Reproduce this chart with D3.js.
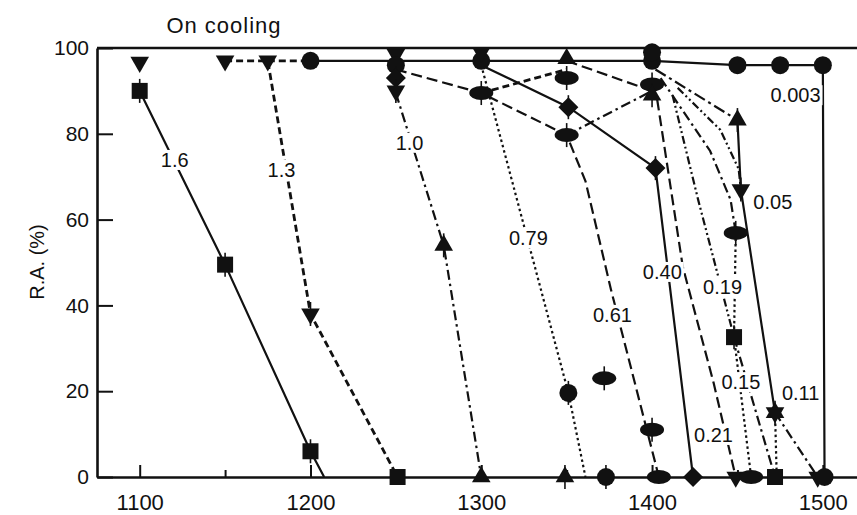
<!DOCTYPE html>
<html>
<head>
<meta charset="utf-8">
<script src="https://cdn.jsdelivr.net/npm/d3@7"></script>
<style>
body{margin:0;background:#fff}
text{font-family:"Liberation Sans",Arial,sans-serif;fill:#111}
</style>
</head>
<body>
<div id="chart"></div>
<script>
// [temperature (C), R.A. (%), marker]
const xTicks = [1100,1200,1300,1400,1500]
const xMinor = [1150,1250,1350,1450]
const yTicks = [0,20,40,60,80,100]

const r16   = [[1100,90,'sq'],[1150,49.5,'sq'],[1200,6,'sq'],[1208,0]]
const r13   = [[1150,97,'tdn'],[1175,97,'tdn'],[1200,38,'tdn'],[1251,0,'sq']]
const rTop  = [[1175,97],[1200,97]]
const r10   = [[1250,89.5],[1278,54,'tup'],[1300,0,'tup']]
const r079  = [[1300,96],[1351,19.6,'ci'],[1361,0]]
const r061  = [[1250,95],[1300,89.5,'el'],[1350,79.7,'el'],[1361,69],[1376,43.6],[1404,0,'el']]
const r040  = [[1300,96],[1351,86.2,'di'],[1402,72,'di'],[1424,0,'di']]
const rL1   = [[1300,89.5],[1350,95]]
const rL2   = [[1350,97],[1400,90]]
const rL3   = [[1350,79.7],[1400,90]]
const r021  = [[1403,88],[1418,49],[1436,22],[1449,0,'tdn']]
const r019  = [[1412,89],[1427,64.6],[1437,49.4],[1448,32.6,'sq']]
const r015  = [[1448,32.6],[1458,0,'el']]
const r015b = [[1448,32.6],[1458,19],[1472,0,'sq']]
const rEl   = [[1405,93],[1434,76],[1446,64.6],[1449,56.9,'el']]
const rEl2  = [[1449,56.9],[1448,32.6]]
const r005a = [[1402,95],[1450,83.2,'tup']]
const r005  = [[1450,83.2],[1452,67,'tdn'],[1472,15,'st']]
const r005c = [[1415,90.7],[1440,80.9],[1450.7,71.8],[1452,67]]
const r011  = [[1472,15],[1497,0,'tdn']]
const r011b = [[1472,15],[1473,0]]
const r0003 = [[1200,97,'ci'],[1250,97],[1300,97,'ci'],[1350,97],[1400,97,'ci'],[1450,96,'ci'],[1475,96,'ci'],[1500,96,'ci'],[1501,0,'ci']]

// markers with no line of their own
const extras = [[1100,96.7,'tdn'],[1250,98.5,'tdn'],[1250,96,'ci'],[1250,93,'di'],[1250,90,'tdn'],
  [1300,99,'tdn'],[1350,97.5,'tup'],[1350,93,'el'],[1400,99,'ci'],[1400,91.5,'el'],[1400,89,'tup'],
  [1372,23,'el'],[1400,11,'el'],[1349,0,'tup'],[1373,0,'ci']]

const series = [
  {pts:r16, style:'solid'}, {pts:r13, style:'dash'}, {pts:rTop, style:'dash'},
  {pts:r10, style:'dashdot'}, {pts:r079, style:'dot'}, {pts:r061, style:'long'},
  {pts:r040, style:'solid'}, {pts:rL1, style:'dash'}, {pts:rL2, style:'long'},
  {pts:rL3, style:'dashdot'}, {pts:r021, style:'long'}, {pts:r019, style:'dash2dot'},
  {pts:r015, style:'dot'}, {pts:r015b, style:'dashdot'}, {pts:rEl, style:'dashdot'},
  {pts:rEl2, style:'dot'}, {pts:r005a, style:'longdot'}, {pts:r005, style:'solid'},
  {pts:r005c, style:'dash2dot'}, {pts:r011, style:'dashdot'}, {pts:r011b, style:'dot'},
  {pts:r0003, style:'solid', nobar:true}
]

const labels = [['1.6',1120.5,73.9],['1.3',1183,71.6],['1.0',1258,77.9],['0.79',1327.6,55.7],
  ['0.61',1376.8,37.8],['0.40',1406,47.8],['0.19',1441.3,44.3],['0.15',1452,22.1],
  ['0.21',1436,9.8],['0.11',1487,19.6],['0.05',1470.7,64.1],['0.003',1484,89]]

const dashes = {solid:null, dash:'7,4', long:'11,5', dashdot:'10,4,2.5,4',
  dash2dot:'8,3,2,3,2,3', dot:'2.5,3', longdot:'12,4,3,4'}

const width = 857, height = 515
const svg = d3.select('#chart').append('svg').attr('width', width).attr('height', height)

const x = d3.scaleLinear().domain([1075,1520]).range([97,857])
const y = d3.scaleLinear().domain([0,100]).range([477,48])

// frame top
svg.append('line')
    .attr('x1', x(1075)).attr('x2', x(1520))
    .attr('y1', y(100)).attr('y2', y(100))
    .attr('stroke','#111').attr('stroke-width',2.4)

let yAxis = svg.append('g')
    .attr('transform','translate(' + x(1075) + ',0)')
    .call(d3.axisLeft(y).tickValues(yTicks).tickSizeInner(-16).tickSizeOuter(0).tickPadding(8))
yAxis.selectAll('text').attr('font-size', 21).attr('fill','#111')

let xAxis = svg.append('g')
    .attr('transform','translate(0,' + y(0) + ')')
    .call(d3.axisBottom(x).tickValues(xTicks).tickFormat(d3.format('d')).tickSizeInner(-12).tickSizeOuter(0).tickPadding(17))
xAxis.selectAll('text').attr('font-size', 22).attr('fill','#111')

svg.append('g')
    .attr('transform','translate(0,' + y(0) + ')')
    .call(d3.axisBottom(x).tickValues(xMinor).tickSizeInner(-7).tickSizeOuter(0).tickFormat(''))
    .select('.domain').remove()

svg.selectAll('.domain').attr('stroke','#111').attr('stroke-width',2.6)
svg.selectAll('.tick line').attr('stroke','#111').attr('stroke-width',2)

let line = d3.line().x(d => x(d[0])).y(d => y(d[1]))

let lines = svg.append('g')
series.forEach(function(s){
    lines.append('path')
        .attr('d', line(s.pts))
        .attr('fill','none')
        .attr('stroke','#111')
        .attr('stroke-width', s.style == 'dash' ? 2.8 : 2.2)
        .attr('stroke-dasharray', dashes[s.style])
})

function marker(g, type, cx, cy, bar){
    if(bar){
        g.append('line').attr('x1',cx).attr('x2',cx).attr('y1',cy-12).attr('y2',cy+12)
            .attr('stroke','#111').attr('stroke-width',1.6)
    }
    if(type == 'sq'){
        g.append('rect').attr('x',cx-8).attr('y',cy-8).attr('width',16).attr('height',16).attr('fill','#111')
    } else if(type == 'ci'){
        g.append('circle').attr('cx',cx).attr('cy',cy).attr('r',9).attr('fill','#111')
    } else if(type == 'el'){
        g.append('ellipse').attr('cx',cx).attr('cy',cy).attr('rx',12).attr('ry',7).attr('fill','#111')
    } else if(type == 'di'){
        g.append('path').attr('d','M0,-10L10,0L0,10L-10,0Z').attr('transform','translate('+cx+','+cy+')').attr('fill','#111')
    } else if(type == 'tup' || type == 'tdn' || type == 'st'){
        let tri = d3.symbol().type(d3.symbolTriangle).size(150)()
        if(type != 'tdn')
            g.append('path').attr('d',tri).attr('transform','translate('+cx+','+cy+')').attr('fill','#111')
        if(type != 'tup')
            g.append('path').attr('d',tri).attr('transform','translate('+cx+','+cy+') rotate(180)').attr('fill','#111')
    }
}

let marks = svg.append('g')
series.forEach(function(s){
    s.pts.forEach(function(p){
        if(p[2]) marker(marks, p[2], x(p[0]), y(p[1]), !s.nobar && p[1] > 0 && p[1] < 96)
    })
})
extras.forEach(function(p){
    marker(marks, p[2], x(p[0]), y(p[1]), p[1] < 96)
})

// curve labels sit on a white patch that breaks the line
let labelG = svg.append('g')
labels.forEach(function(d){
    let g = labelG.append('g')
    let t = g.append('text')
        .attr('x', x(d[1]))
        .attr('y', y(d[2]))
        .attr('text-anchor','middle')
        .attr('dominant-baseline','central')
        .attr('font-size', 20)
        .text(d[0])
    let b = t.node().getBBox()
    g.insert('rect','text')
        .attr('x', b.x - 2).attr('y', b.y + 1)
        .attr('width', b.width + 4).attr('height', b.height - 2)
        .attr('fill','#fff')
})

svg.append('text')
    .attr('x', 224).attr('y', 33)
    .attr('text-anchor','middle')
    .attr('font-size', 22)
    .attr('letter-spacing', 1)
    .text('On cooling')

svg.append('text')
    .attr('transform','translate(44,262) rotate(-90)')
    .attr('text-anchor','middle')
    .attr('font-size', 20)
    .text('R.A. (%)')
</script>
</body>
</html>
